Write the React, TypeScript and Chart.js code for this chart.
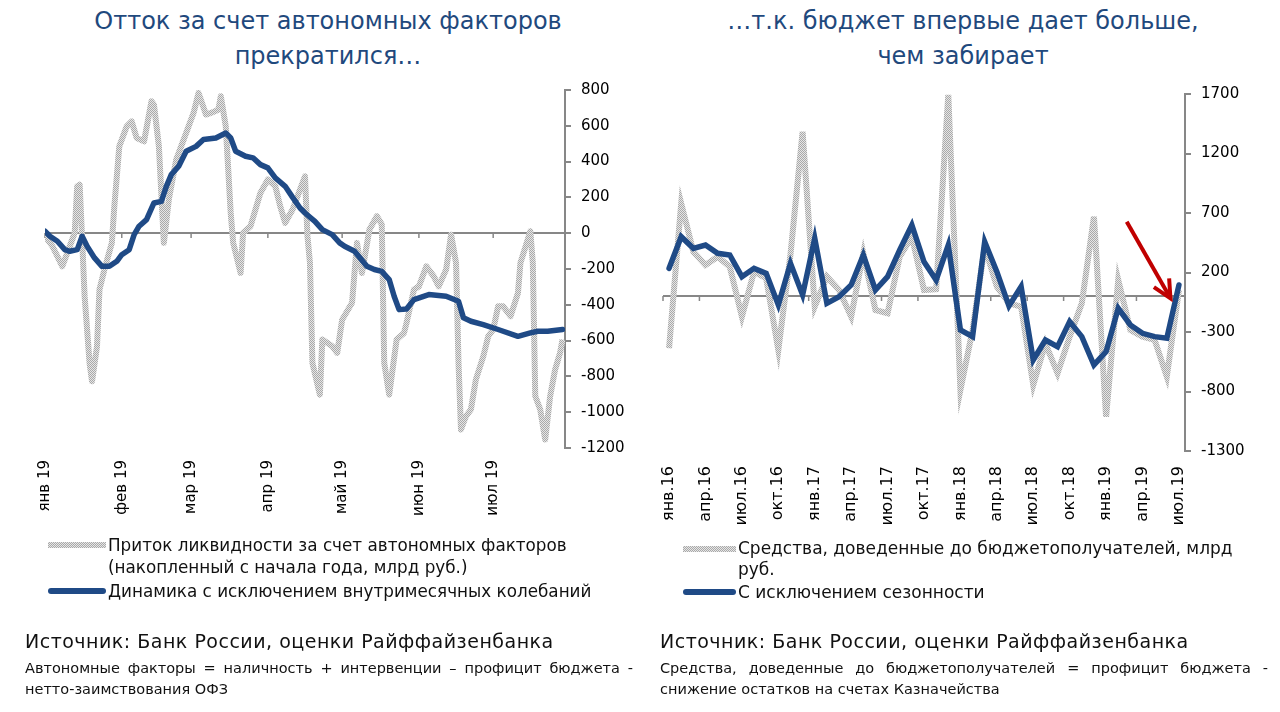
import React, { useEffect, useRef } from "react";
import { Chart, registerables } from "chart.js";

Chart.register(...registerables);

const FONT = "'DejaVu Sans', sans-serif";
const BLUE = "#1f4a86";
const AXIS = "#878787";
const TITLE_COLOR = "#1f497d";
const ARROW = "#c00000";

// ---------- Left chart data (days since 1 Jan 2019) ----------
const leftMonthDays = [0, 31, 59, 90, 120, 151, 181];
const leftMonthLabels = ["янв 19", "фев 19", "мар 19", "апр 19", "май 19", "июн 19", "июл 19"];

const leftGrayDays = [0, 3, 7, 9, 12, 13, 14, 15, 16, 18, 19, 21, 22, 24, 27, 28, 30, 33, 35, 37, 40, 43, 44, 46, 48, 50, 53, 56, 60, 62, 65, 67, 70, 71, 73, 75, 76, 79, 80, 83, 87, 90, 93, 95, 97, 100, 105, 106, 107, 108, 111, 112, 116, 118, 120, 124, 126, 128, 131, 134, 136, 137, 139, 142, 145, 146, 149, 151, 154, 157, 159, 162, 164, 166, 167, 168, 170, 172, 174, 177, 179, 181, 183, 185, 188, 191, 192, 196, 197, 198, 200, 202, 204, 206, 208, 209];
const leftGrayValues = [-17, -73, -185, -110, 2, 262, 271, -36, -352, -725, -827, -632, -315, -203, -54, 150, 485, 597, 625, 532, 513, 737, 718, 485, -54, 188, 411, 523, 672, 784, 663, 672, 690, 765, 597, 113, -54, -222, 2, 39, 225, 300, 262, 150, 58, 132, 318, -17, -165, -725, -902, -594, -632, -669, -483, -389, -54, -222, 19, 95, 50, -725, -902, -594, -557, -501, -315, -297, -185, -241, -297, -203, -8, -166, -725, -1097, -1023, -985, -818, -688, -576, -538, -408, -408, -464, -334, -166, 11, -166, -911, -985, -1153, -911, -762, -669, -594];

const leftBlueDays = [0, 2, 5, 8, 10, 13, 15, 17, 20, 23, 26, 29, 31, 34, 36, 38, 41, 44, 47, 49, 51, 54, 57, 61, 64, 69, 73, 75, 77, 81, 84, 87, 90, 93, 97, 100, 103, 105, 109, 112, 116, 119, 121, 125, 130, 133, 136, 139, 141, 143, 146, 149, 155, 162, 167, 169, 172, 177, 183, 191, 196, 199, 203, 209];
const leftBlueValues = [11, -17, -45, -92, -101, -92, -17, -73, -138, -185, -185, -157, -120, -92, -8, 39, 76, 169, 178, 262, 327, 374, 458, 485, 523, 532, 560, 532, 458, 430, 421, 383, 365, 309, 262, 200, 141, 113, 66, 20, -8, -54, -73, -101, -185, -203, -213, -259, -352, -427, -423, -371, -343, -352, -380, -473, -492, -511, -538, -576, -557, -548, -548, -538];

// ---------- Right chart data (monthly, Jan 2016 – Jul 2019) ----------
const rightMonths = [
  "янв.16", "фев.16", "мар.16", "апр.16", "май.16", "июн.16", "июл.16", "авг.16", "сен.16", "окт.16", "ноя.16", "дек.16",
  "янв.17", "фев.17", "мар.17", "апр.17", "май.17", "июн.17", "июл.17", "авг.17", "сен.17", "окт.17", "ноя.17", "дек.17",
  "янв.18", "фев.18", "мар.18", "апр.18", "май.18", "июн.18", "июл.18", "авг.18", "сен.18", "окт.18", "ноя.18", "дек.18",
  "янв.19", "фев.19", "мар.19", "апр.19", "май.19", "июн.19", "июл.19",
];
const rightGrayValues = [-437, 781, 375, 263, 333, 249, -171, 207, 151, -451, 350, 1383, -87, 165, 53, -171, 361, -115, -143, 333, 501, 53, 60, 1692, -787, -283, 417, 81, -60, -87, -745, -395, -647, -339, -59, 669, -1012, 137, -283, -339, -367, -675, 53];
const rightBlueValues = [235, 501, 403, 431, 361, 347, 165, 235, 193, -73, 277, 11, 487, -59, -3, 95, 347, 53, 165, 389, 599, 290, 137, 431, -283, -339, 459, 207, -82, 81, -535, -367, -423, -213, -339, -577, -465, -101, -241, -311, -339, -353, 95];
// arrow annotation: [from category index, from value, to category index, to value]
const rightArrow = [37.7, 627, 41.3, -17];

function makePattern(ctx: CanvasRenderingContext2D) {
  const c = document.createElement("canvas");
  c.width = 2;
  c.height = 2;
  const g = c.getContext("2d")!;
  g.fillStyle = "#e6e6e6";
  g.fillRect(0, 0, 2, 2);
  g.fillStyle = "#a9a9a9";
  g.fillRect(0, 0, 1, 1);
  g.fillRect(1, 1, 1, 1);
  return ctx.createPattern(c, "repeat")!;
}

function zeroLinePlugin(tickPixels: (chart: any) => number[]) {
  return {
    id: "zeroLine",
    beforeDatasetsDraw(chart: any) {
      const { ctx, chartArea, scales } = chart;
      const y0 = Math.round(scales.y.getPixelForValue(0));
      ctx.save();
      ctx.strokeStyle = AXIS;
      ctx.lineWidth = 2;
      ctx.beginPath();
      ctx.moveTo(chartArea.left, y0);
      ctx.lineTo(chartArea.right, y0);
      ctx.stroke();
      ctx.lineWidth = 1.5;
      for (const px of tickPixels(chart)) {
        ctx.beginPath();
        ctx.moveTo(px, y0);
        ctx.lineTo(px, y0 + 5);
        ctx.stroke();
      }
      ctx.restore();
    },
  };
}

const arrowPlugin = {
  id: "arrow",
  afterDatasetsDraw(chart: any) {
    const { ctx, scales } = chart;
    const x1 = scales.x.getPixelForValue(rightArrow[0]);
    const y1 = scales.y.getPixelForValue(rightArrow[1]);
    const x2 = scales.x.getPixelForValue(rightArrow[2]);
    const y2 = scales.y.getPixelForValue(rightArrow[3]);
    const ang = Math.atan2(y1 - y2, x1 - x2);
    const head = 20;
    const spread = (26 * Math.PI) / 180;
    ctx.save();
    ctx.strokeStyle = ARROW;
    ctx.lineWidth = 4;
    ctx.lineCap = "butt";
    ctx.lineJoin = "miter";
    ctx.beginPath();
    ctx.moveTo(x1, y1);
    ctx.lineTo(x2 + Math.cos(ang) * 4, y2 + Math.sin(ang) * 4);
    ctx.stroke();
    ctx.beginPath();
    ctx.moveTo(x2 + Math.cos(ang + spread) * head, y2 + Math.sin(ang + spread) * head);
    ctx.lineTo(x2, y2);
    ctx.lineTo(x2 + Math.cos(ang - spread) * head, y2 + Math.sin(ang - spread) * head);
    ctx.stroke();
    ctx.restore();
  },
};

const plainNumber = (v: any) => String(v);

function LeftChart() {
  const ref = useRef<HTMLCanvasElement>(null);
  useEffect(() => {
    const ctx = ref.current!.getContext("2d")!;
    const pattern = makePattern(ctx);
    const chart = new Chart(ctx, {
      type: "line",
      data: {
        datasets: [
          {
            label: "Динамика с исключением внутримесячных колебаний",
            data: leftBlueDays.map((d, i) => ({ x: d, y: leftBlueValues[i] })),
            borderColor: BLUE,
            borderWidth: 5.5,
            pointRadius: 0,
            tension: 0,
            borderJoinStyle: "round",
            borderCapStyle: "round",
          },
          {
            label: "Приток ликвидности за счет автономных факторов",
            data: leftGrayDays.map((d, i) => ({ x: d, y: leftGrayValues[i] })),
            borderColor: pattern as any,
            borderWidth: 6,
            pointRadius: 0,
            tension: 0,
            borderJoinStyle: "round",
          },
        ],
      },
      options: {
        animation: false,
        responsive: false,
        events: [],
        layout: { padding: { left: 45, right: 0, top: 90, bottom: 184 } },
        plugins: { legend: { display: false }, tooltip: { enabled: false } },
        scales: {
          x: {
            type: "linear",
            min: 0,
            max: 210,
            afterBuildTicks: (s: any) => {
              s.ticks = leftMonthDays.map((v) => ({ value: v }));
            },
            afterFit: (s: any) => {
              s.height = 80;
            },
            ticks: {
              autoSkip: false,
              minRotation: 90,
              maxRotation: 90,
              padding: 12,
              color: "#000",
              font: { family: FONT, size: 15 },
              callback: (v: any) => {
                const i = leftMonthDays.indexOf(Number(v));
                return i >= 0 ? leftMonthLabels[i] : "";
              },
            },
            grid: { display: false, drawTicks: false },
            border: { display: false },
          },
          y: {
            position: "right",
            min: -1200,
            max: 800,
            afterFit: (s: any) => {
              s.width = 75;
            },
            ticks: { stepSize: 200, color: "#000", padding: 10, font: { family: FONT, size: 15 }, callback: plainNumber },
            grid: { drawOnChartArea: false, color: AXIS, lineWidth: 2, tickLength: 6 },
            border: { color: AXIS, width: 2 },
          },
        },
      },
      plugins: [
        zeroLinePlugin((c: any) => leftMonthDays.map((d) => c.scales.x.getPixelForValue(d))),
      ],
    } as any);
    return () => chart.destroy();
  }, []);
  return <canvas ref={ref} width={640} height={712} style={{ position: "absolute", left: 0, top: 0 }} />;
}

function RightChart() {
  const ref = useRef<HTMLCanvasElement>(null);
  useEffect(() => {
    const ctx = ref.current!.getContext("2d")!;
    const pattern = makePattern(ctx);
    const chart = new Chart(ctx, {
      type: "line",
      data: {
        labels: rightMonths,
        datasets: [
          {
            label: "С исключением сезонности",
            data: rightBlueValues,
            borderColor: BLUE,
            borderWidth: 5.5,
            pointRadius: 0,
            tension: 0,
            borderJoinStyle: "miter",
            borderCapStyle: "round",
          },
          {
            label: "Средства, доведенные до бюджетополучателей, млрд руб.",
            data: rightGrayValues,
            borderColor: pattern as any,
            borderWidth: 6,
            pointRadius: 0,
            tension: 0,
            borderJoinStyle: "miter",
          },
        ],
      },
      options: {
        animation: false,
        responsive: false,
        events: [],
        layout: { padding: { left: 23, right: 20, top: 94, bottom: 181 } },
        plugins: { legend: { display: false }, tooltip: { enabled: false } },
        scales: {
          x: {
            type: "category",
            offset: true,
            afterFit: (s: any) => {
              s.height = 80;
            },
            ticks: {
              autoSkip: false,
              minRotation: 90,
              maxRotation: 90,
              padding: 15,
              color: "#000",
              font: { family: FONT, size: 16 },
              callback: (_v: any, i: number) => (i % 3 === 0 ? rightMonths[i] : ""),
            },
            grid: { display: false, drawTicks: false },
            border: { display: false },
          },
          y: {
            position: "right",
            min: -1300,
            max: 1700,
            afterFit: (s: any) => {
              s.width = 75;
            },
            ticks: { stepSize: 500, color: "#000", padding: 10, font: { family: FONT, size: 15 }, callback: plainNumber },
            grid: { drawOnChartArea: false, color: AXIS, lineWidth: 2, tickLength: 6 },
            border: { color: AXIS, width: 2 },
          },
        },
      },
      plugins: [
        zeroLinePlugin((c: any) => {
          const xs = c.scales.x;
          const half = (xs.getPixelForValue(1) - xs.getPixelForValue(0)) / 2;
          const out: number[] = [];
          for (let i = 0; i < rightMonths.length; i += 3) out.push(xs.getPixelForValue(i) - half);
          return out;
        }),
        arrowPlugin,
      ],
    } as any);
    return () => chart.destroy();
  }, []);
  return <canvas ref={ref} width={640} height={712} style={{ position: "absolute", left: 0, top: 0 }} />;
}

const grayLegendStyle: React.CSSProperties = {
  position: "absolute",
  height: 6,
  background: "repeating-conic-gradient(#a9a9a9 0% 25%, #e6e6e6 0% 50%) 0 0 / 2px 2px",
};
const blueLegendStyle: React.CSSProperties = {
  position: "absolute",
  height: 6,
  borderRadius: 3,
  background: BLUE,
};

export default function App() {
  const text: React.CSSProperties = { position: "absolute", fontFamily: FONT, color: "#111", whiteSpace: "nowrap" };
  const title: React.CSSProperties = {
    position: "absolute",
    fontFamily: FONT,
    color: TITLE_COLOR,
    fontSize: 24,
    lineHeight: "35px",
    textAlign: "center",
    width: 600,
    top: 4,
  };
  const noteLine: React.CSSProperties = {
    position: "absolute",
    fontFamily: FONT,
    color: "#111",
    fontSize: 14.5,
    lineHeight: "21px",
    width: 608,
    whiteSpace: "nowrap",
  };
  const justified: React.CSSProperties = { textAlign: "justify", textAlignLast: "justify" } as React.CSSProperties;
  const source: React.CSSProperties = { ...text, top: 630, fontSize: 19, lineHeight: "22px", letterSpacing: 0.5 };
  return (
    <div style={{ position: "fixed", left: 0, top: 0, width: 1280, height: 712, background: "#fff", overflow: "hidden" }}>
      <div style={{ ...title, left: 28 }}>
        Отток за счет автономных факторов
        <br />
        прекратился…
      </div>
      <div style={{ ...title, left: 663 }}>
        …т.к. бюджет впервые дает больше,
        <br />
        чем забирает
      </div>

      <div style={{ position: "absolute", left: 0, top: 0, width: 640, height: 712 }}>
        <LeftChart />
      </div>
      <div style={{ position: "absolute", left: 640, top: 0, width: 640, height: 712 }}>
        <RightChart />
      </div>

      {/* left legend */}
      <div style={{ ...grayLegendStyle, left: 48, top: 542, width: 58 }} />
      <div style={{ ...text, left: 108, top: 534, fontSize: 16.8, lineHeight: "22px" }}>
        Приток ликвидности за счет автономных факторов
        <br />
        (накопленный с начала года, млрд руб.)
      </div>
      <div style={{ ...blueLegendStyle, left: 48, top: 588, width: 58 }} />
      <div style={{ ...text, left: 108, top: 580, fontSize: 16.8, lineHeight: "22px" }}>
        Динамика с исключением внутримесячных колебаний
      </div>

      {/* right legend */}
      <div style={{ ...grayLegendStyle, left: 683, top: 546, width: 53 }} />
      <div style={{ ...text, left: 738, top: 538, fontSize: 17, lineHeight: "21px" }}>
        Средства, доведенные до бюджетополучателей, млрд
        <br />
        руб.
      </div>
      <div style={{ ...blueLegendStyle, left: 683, top: 589, width: 53 }} />
      <div style={{ ...text, left: 738, top: 581, fontSize: 17, lineHeight: "22px" }}>С исключением сезонности</div>

      {/* sources */}
      <div style={{ ...source, left: 25 }}>Источник: Банк России, оценки Райффайзенбанка</div>
      <div style={{ ...noteLine, ...justified, left: 25, top: 658 }}>
        Автономные факторы = наличность + интервенции – профицит бюджета -
      </div>
      <div style={{ ...noteLine, left: 25, top: 679 }}>нетто-заимствования ОФЗ</div>

      <div style={{ ...source, left: 660 }}>Источник: Банк России, оценки Райффайзенбанка</div>
      <div style={{ ...noteLine, ...justified, left: 660, top: 658 }}>
        Средства, доведенные до бюджетополучателей = профицит бюджета -
      </div>
      <div style={{ ...noteLine, left: 660, top: 679 }}>снижение остатков на счетах Казначейства</div>
    </div>
  );
}
